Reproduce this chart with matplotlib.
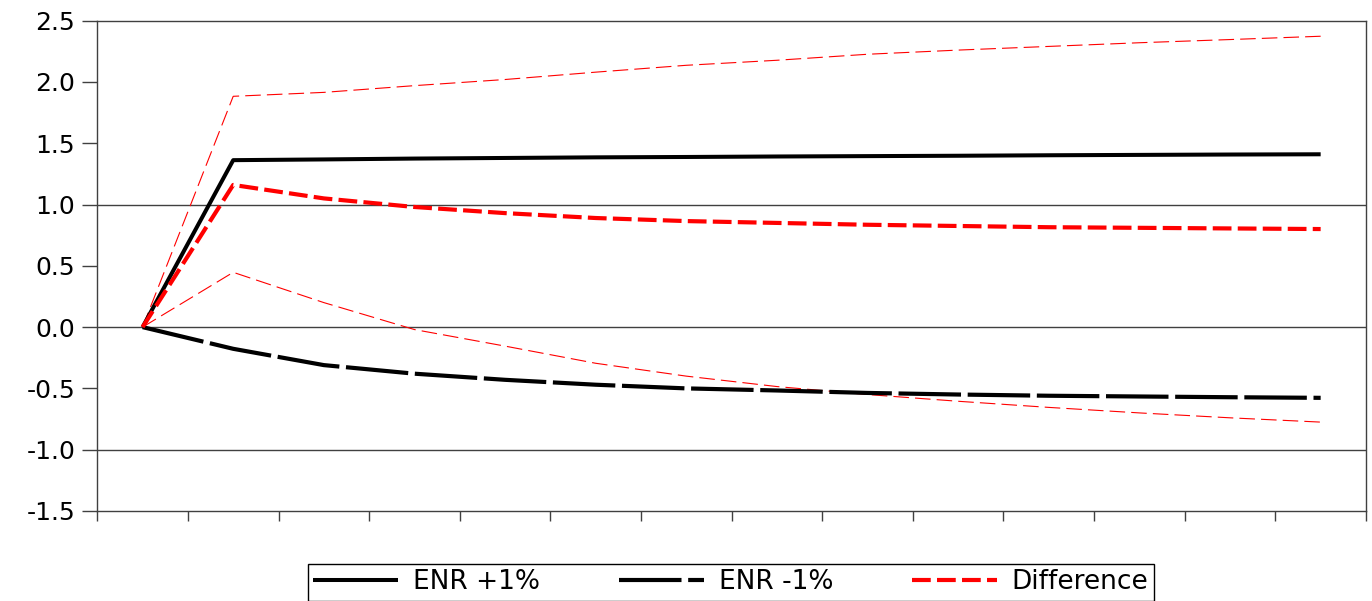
import numpy as np
import matplotlib
matplotlib.use("Agg")
import matplotlib.pyplot as plt

plt.rcParams['axes.unicode_minus'] = False
plt.rcParams['font.family'] = ['DejaVu Sans']

# ---- data ----
periods = list(range(1, 15))
enr_plus = [0.0, 1.362, 1.368, 1.375, 1.380, 1.385, 1.388, 1.392, 1.395, 1.398, 1.402, 1.405, 1.408, 1.410]
enr_minus = [0.0, -0.177, -0.31, -0.38, -0.43, -0.47, -0.50, -0.517, -0.537, -0.55, -0.56, -0.566, -0.572, -0.577]
difference = [0.0, 1.16, 1.05, 0.98, 0.93, 0.89, 0.865, 0.85, 0.835, 0.825, 0.815, 0.81, 0.805, 0.80]
upper_band = [0.0, 1.883, 1.915, 1.97, 2.02, 2.08, 2.136, 2.177, 2.226, 2.26, 2.29, 2.32, 2.346, 2.373]
lower_band = [0.0, 0.447, 0.20, -0.02, -0.155, -0.295, -0.40, -0.485, -0.55, -0.605, -0.655, -0.70, -0.74, -0.775]
labels = ['ENR +1%', 'ENR -1%', 'Difference']
y_ticks = [-1.5, -1.0, -0.5, 0.0, 0.5, 1.0, 1.5, 2.0, 2.5]
ref_lines = [1.0, 0.0, -1.0]

axis_col = '#404040'

fig = plt.figure(figsize=(13.72, 6.01), dpi=100)
ax = fig.add_axes([0.0709, 0.1498, 0.9247, 0.8158])

for v in ref_lines:
    ax.axhline(v, color=axis_col, lw=1.0, zorder=1)

ax.plot(periods, upper_band, color='red', lw=0.8, dashes=(14, 5.5), zorder=2)
ax.plot(periods, lower_band, color='red', lw=0.8, dashes=(14, 5.5), zorder=2)
h1, = ax.plot(periods, enr_plus, color='black', lw=2.9, solid_capstyle='butt', zorder=3)
h2, = ax.plot(periods, enr_minus, color='black', lw=3.0, dashes=(15, 1.6), zorder=3)
h3, = ax.plot(periods, difference, color='red', lw=3.0, dashes=(4.5, 1.5), zorder=4)

ax.set_xlim(0.5, 14.5)
ax.set_ylim(-1.5, 2.5)
ax.set_xticks(np.arange(0.5, 15, 1.0))
ax.set_xticklabels([])
ax.set_yticks(y_ticks)
ax.set_yticklabels([f'{v:.1f}' for v in y_ticks])
ax.tick_params(axis='x', direction='out', length=7.2, width=1.0, color=axis_col)
ax.tick_params(axis='y', direction='out', length=10.8, width=1.0, color=axis_col,
               pad=5, labelsize=18, labelcolor='black')
for s in ax.spines.values():
    s.set_color(axis_col)
    s.set_linewidth(1.0)

leg = fig.legend([h1, h2, h3], labels, loc='upper center',
                 bbox_to_anchor=(0.5328, 0.0616), ncol=3, frameon=True,
                 fancybox=False, edgecolor='black', framealpha=1,
                 fontsize=19, handlelength=3.2, handletextpad=0.57,
                 columnspacing=3.0, borderpad=0.2, borderaxespad=0)
leg.get_frame().set_linewidth(1.0)

fig.savefig('out.png', dpi=100)
